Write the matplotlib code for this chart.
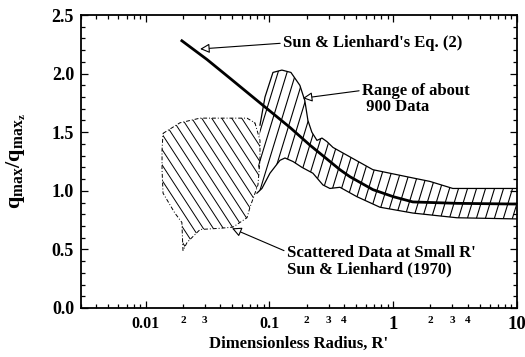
import numpy as np
import matplotlib.pyplot as plt
from matplotlib.patches import Polygon

plt.rcParams['font.family'] = 'Liberation Serif'
plt.rcParams['font.weight'] = 'bold'
plt.rcParams['axes.labelweight'] = 'bold'
plt.rcParams['mathtext.fontset'] = 'custom'
plt.rcParams['mathtext.rm'] = 'Liberation Serif:bold'
plt.rcParams['mathtext.it'] = 'Liberation Serif:bold'
plt.rcParams['mathtext.bf'] = 'Liberation Serif:bold'

# Sun & Lienhard's Eq. (2)
eq_r = [0.0196, 0.0313, 0.048, 0.0696, 0.101, 0.1466, 0.212, 0.308, 0.371, 0.447, 0.685, 1.0,
        1.44, 3.27, 10.0]
eq_q = [2.28, 2.12, 1.96, 1.82, 1.68, 1.54, 1.39, 1.25, 1.18, 1.12, 1.01, 0.95,
        0.905, 0.893, 0.887]

# range of about 900 data: upper and lower edges
up_r = [0.0838, 0.092, 0.1067, 0.126, 0.149, 0.176, 0.193, 0.2045, 0.220, 0.242, 0.2655, 0.291,
        0.326, 0.685, 1.29, 1.98, 3.03, 10.0]
up_q = [1.56, 1.80, 2.01, 2.03, 2.01, 1.90, 1.77, 1.60, 1.50, 1.43, 1.45, 1.42,
        1.37, 1.18, 1.12, 1.08, 1.02, 1.02]
lo_r = [0.0792, 0.0869, 0.1009, 0.1215, 0.1334, 0.1548, 0.183, 0.2244, 0.2703, 0.3077, 0.371,
        0.508, 0.780, 1.443, 3.27, 10.0]
lo_q = [0.98, 1.02, 1.15, 1.26, 1.28, 1.25, 1.20, 1.15, 1.05, 1.02, 1.03,
        0.95, 0.86, 0.81, 0.77, 0.76]

# scattered data at small R' (outline)
sc_r = [0.0138, 0.0189, 0.0275, 0.0658, 0.0763, 0.0838, 0.0838, 0.0807, 0.0696, 0.0658, 0.0507,
        0.0398, 0.0275, 0.0216, 0.0200, 0.0196, 0.0172, 0.0138, 0.01355, 0.01355]
sc_q = [1.49, 1.58, 1.62, 1.62, 1.58, 1.43, 1.26, 1.05, 0.86, 0.77, 0.69,
        0.68, 0.67, 0.56, 0.49, 0.73, 0.81, 0.98, 1.18, 1.35]

major_x = [0.01, 0.1, 1, 10]
major_lbl = ['0.01', '0.1', '1', '10']
minor_lbl = {0.02: '2', 0.03: '3', 0.2: '2', 0.3: '3', 0.4: '4', 2: '2', 3: '3', 4: '4'}

fig = plt.figure(figsize=(5.25, 3.57), dpi=100)
W, H = 436, 293
ax = fig.add_axes([81/525, 1 - 308/357, W/525, H/357])
ax.set_xscale('log')
ax.set_xlim(0.003, 10)
ax.set_ylim(0, 2.5)


def hatch(patch, angle, step, lw):
    # straight hatch lines in pixel space, clipped to the patch
    t = np.tan(np.radians(angle))
    for x0 in np.arange(-2*H, W + 2*H, step):
        xs = np.array([x0, x0 + H / t])
        ln, = ax.plot(xs / W, [0, 1], transform=ax.transAxes, color='black', lw=lw)
        ln.set_clip_path(patch)


band = Polygon(list(zip(up_r, up_q)) + list(zip(lo_r, lo_q))[::-1], closed=True,
               fill=False, edgecolor='none', transform=ax.transData)
ax.add_patch(band)
hatch(band, 73, 9, 0.8)
ax.plot(up_r, up_q, color='black', lw=0.9)
ax.plot(lo_r, lo_q, color='black', lw=0.9)

scat = Polygon(list(zip(sc_r, sc_q)), closed=True, fill=False, edgecolor='black',
               lw=0.7, linestyle=(0, (4, 2, 1, 2)), transform=ax.transData)
ax.add_patch(scat)
hatch(scat, -57, 10, 0.7)

ax.plot(eq_r, eq_q, color='black', lw=2)

arrow = dict(arrowstyle='-|>', fc='white', ec='black', lw=0.8, mutation_scale=14,
             shrinkA=0, shrinkB=0)
ax.annotate("Sun & Lienhard's Eq. (2)", xy=(0.0275, 2.21), xytext=(0.1285, 2.26),
            fontsize=12, va='center', ha='left',
            arrowprops=dict(arrow, relpos=(0, 0.5)))
ax.annotate("Range of about\n 900 Data", xy=(0.186, 1.79), xytext=(0.558, 1.78),
            fontsize=12, va='center', ha='left', linespacing=1.0,
            arrowprops=dict(arrow, relpos=(0, 0.78)))
ax.annotate("Scattered Data at Small R'\nSun & Lienhard (1970)", xy=(0.0498, 0.68),
            xytext=(0.138, 0.40), fontsize=12, va='center', ha='left', linespacing=1.1,
            arrowprops=dict(arrow, relpos=(0, 0.78)))

ax.set_xticks(major_x, major_lbl)
minor_pos = [m * d for d in [0.001, 0.01, 0.1, 1] for m in range(2, 10) if 0.003 <= m * d <= 10]
ax.set_xticks(minor_pos, [minor_lbl.get(round(p, 4), '') for p in minor_pos], minor=True)
ax.set_yticks(np.arange(0, 2.51, 0.5), ['0.0', '0.5', '1.0', '1.5', '2.0', '2.5'])
ax.set_yticks(np.arange(0, 2.51, 0.1), minor=True)
ax.tick_params(which='both', direction='in', top=True, right=True, width=0.9)
ax.tick_params(which='major', length=5)
ax.tick_params(which='minor', length=3)
ax.tick_params(axis='x', which='major', pad=6, labelsize=11.5)
ax.tick_params(axis='x', which='minor', labelsize=8, pad=6)
ax.tick_params(axis='y', pad=5, labelsize=13)
for lbl in ax.get_xticklabels()[2:]:
    lbl.set_fontsize(13.5)
for s in ax.spines.values():
    s.set_linewidth(1.3)

ax.set_xlabel("Dimensionless Radius, R'", fontsize=12, labelpad=2)
ax.set_ylabel(r'$\mathrm{q_{max}/q_{max_z}}$', fontsize=16, labelpad=17)

fig.savefig('out.png', dpi=100)
